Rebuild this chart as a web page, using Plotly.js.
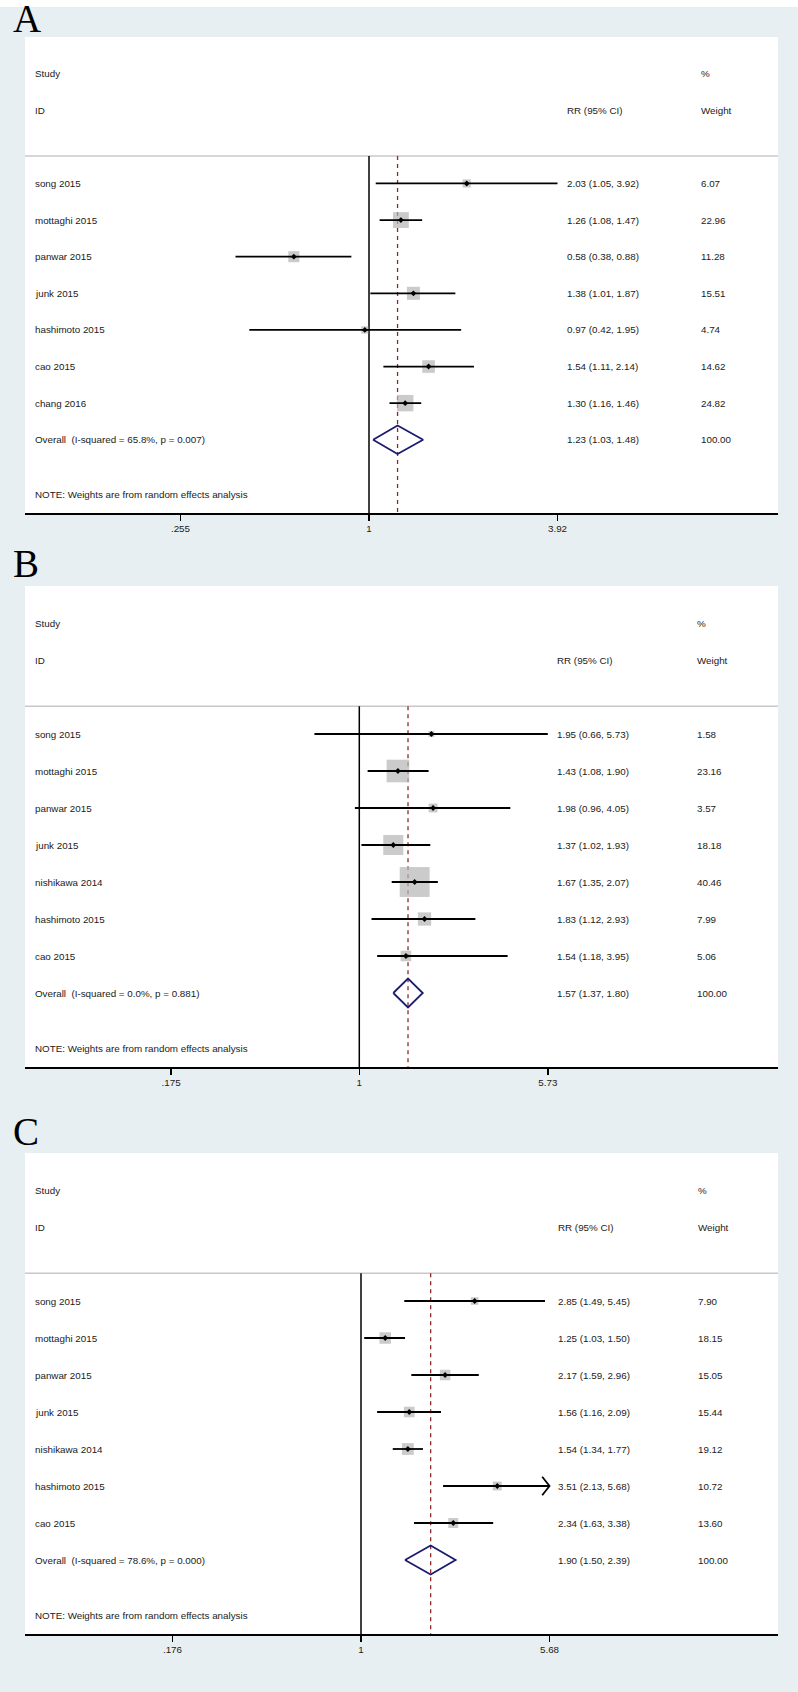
<!DOCTYPE html>
<html><head><meta charset="utf-8">
<script src="https://cdn.plot.ly/plotly-3.0.1.min.js"></script>
<style>html,body{margin:0;padding:0;background:#fff}</style>
</head><body><div id="chart" style="width:798px;height:1692px"></div>
<script>
// ---------- Panel A data ----------
const studiesA = ['song 2015','mottaghi 2015','panwar 2015','junk 2015','hashimoto 2015','cao 2015','chang 2016'];
const rrA      = [2.03, 1.26, 0.58, 1.38, 0.97, 1.54, 1.30];
const lowA     = [1.05, 1.08, 0.38, 1.01, 0.42, 1.11, 1.16];
const highA    = [3.92, 1.47, 0.88, 1.87, 1.95, 2.14, 1.46];
const weightA  = [6.07, 22.96, 11.28, 15.51, 4.74, 14.62, 24.82];
const overallA = [1.23, 1.03, 1.48];
const hetA     = 'Overall\u00a0\u00a0(I-squared = 65.8%, p = 0.007)';
const tickValsA = [0.255, 1, 3.92];
const tickTextA = ['.255', '1', '3.92'];

// ---------- Panel B data ----------
const studiesB = ['song 2015','mottaghi 2015','panwar 2015','junk 2015','nishikawa 2014','hashimoto 2015','cao 2015'];
const rrB      = [1.95, 1.43, 1.98, 1.37, 1.67, 1.83, 1.54];
const lowB     = [0.66, 1.08, 0.96, 1.02, 1.35, 1.12, 1.18];
const highB    = [5.73, 1.90, 4.05, 1.93, 2.07, 2.93, 3.95];
const weightB  = [1.58, 23.16, 3.57, 18.18, 40.46, 7.99, 5.06];
const overallB = [1.57, 1.37, 1.80];
const hetB     = 'Overall\u00a0\u00a0(I-squared = 0.0%, p = 0.881)';
const tickValsB = [0.175, 1, 5.73];
const tickTextB = ['.175', '1', '5.73'];

// ---------- Panel C data ----------
const studiesC = ['song 2015','mottaghi 2015','panwar 2015','junk 2015','nishikawa 2014','hashimoto 2015','cao 2015'];
const rrC      = [2.85, 1.25, 2.17, 1.56, 1.54, 3.51, 2.34];
const lowC     = [1.49, 1.03, 1.59, 1.16, 1.34, 2.13, 1.63];
const highC    = [5.45, 1.50, 2.96, 2.09, 1.77, 5.68, 3.38];
const weightC  = [7.90, 18.15, 15.05, 15.44, 19.12, 10.72, 13.60];
const overallC = [1.90, 1.50, 2.39];
const hetC     = 'Overall\u00a0\u00a0(I-squared = 78.6%, p = 0.000)';
const tickValsC = [0.176, 1, 5.68];
const tickTextC = ['.176', '1', '5.68'];

const noteText = 'NOTE: Weights are from random effects analysis';

// ---------- layout constants (pixels) ----------
const W = 798, H = 1692;
const PLOT_L = 25, PLOT_R = 778;
const panels = [
  {letter:'A', letterY:19,   top:37,   bottom:513,  nullX:369,   rrX:566, wX:700, boxK:3.3, arrows:[],
   studies:studiesA, rr:rrA, lo:lowA, hi:highA, w:weightA, ov:overallA, het:hetA, tv:tickValsA, tt:tickTextA},
  {letter:'B', letterY:564,  top:586,  bottom:1067, nullX:359.3, rrX:556, wX:696, boxK:4.7, arrows:[],
   studies:studiesB, rr:rrB, lo:lowB, hi:highB, w:weightB, ov:overallB, het:hetB, tv:tickValsB, tt:tickTextB},
  {letter:'C', letterY:1131, top:1153, bottom:1634, nullX:361,   rrX:557, wX:697, boxK:2.7, arrows:[5],
   studies:studiesC, rr:rrC, lo:lowC, hi:highC, w:weightC, ov:overallC, het:hetC, tv:tickValsC, tt:tickTextC}
];
const TICK_PX = 188.5; // distance from null line to outer ticks
const ROW_TOP = -3, ROW_BOT = 10;

const FONT = 'Liberation Sans, Arial, Helvetica, sans-serif';
const FS = 9.8;
const TXT = '#1a1a1a';

const traces = [], shapes = [], annotations = [];
const layout = {
  width: W, height: H,
  margin: {l:0, r:0, t:0, b:0},
  paper_bgcolor: '#e8eff2',
  plot_bgcolor: '#ffffff',
  showlegend: false,
  hovermode: false,
  font: {family: FONT, size: FS, color: TXT}
};

// white strip at very top
shapes.push({type:'rect', xref:'paper', yref:'paper', x0:0, x1:1, y0:1-7/H, y1:1,
  fillcolor:'#ffffff', line:{width:0}, layer:'below'});

const fmt = v => v.toFixed(2);

panels.forEach((p, i) => {
  const sfx = i === 0 ? '' : String(i + 1);
  const xa = 'x' + sfx, ya = 'y' + sfx;
  const pxPerLn = TICK_PX / Math.log(p.tv[2]);
  const pxPerDec = pxPerLn * Math.LN10;
  const range = [-(p.nullX - PLOT_L) / pxPerDec, (PLOT_R - p.nullX) / pxPerDec];

  layout['xaxis' + sfx] = {
    type: 'log', range: range, domain: [PLOT_L / W, PLOT_R / W], anchor: ya,
    showgrid: false, zeroline: false, showline: true, linecolor: '#000', linewidth: 1.5,
    ticks: 'outside', ticklen: 6, tickwidth: 1.5, tickcolor: '#000',
    tickvals: p.tv, ticktext: p.tt, tickfont: {family: FONT, size: FS, color: TXT},
    fixedrange: true
  };
  layout['yaxis' + sfx] = {
    range: [ROW_BOT, ROW_TOP], domain: [1 - p.bottom / H, 1 - p.top / H], anchor: xa,
    visible: false, showgrid: false, zeroline: false, fixedrange: true
  };

  const n = p.studies.length;
  const rows = p.studies.map((_, k) => k + 1);
  const ovRow = n + 1;

  // null line and overall dashed line
  shapes.push({type:'line', xref:xa, yref:ya, x0:1, x1:1, y0:0.25, y1:ROW_BOT,
    line:{color:'#000', width:1.5}, layer:'below'});
  shapes.push({type:'line', xref:xa, yref:ya, x0:p.ov[0], x1:p.ov[0], y0:0.25, y1:ROW_BOT,
    line:{color:'#8b2a2a', width:1.3, dash:'4px,4px'}, layer:'below'});
  // header separator
  shapes.push({type:'line', xref:xa + ' domain', yref:ya, x0:0, x1:1, y0:0.25, y1:0.25,
    line:{color:'#c8c8c8', width:1.5}, layer:'below'});

  // weight boxes
  traces.push({type:'scatter', mode:'markers', xaxis:xa, yaxis:ya, x:p.rr, y:rows,
    marker:{symbol:'square', size:p.w.map(v => p.boxK * Math.sqrt(v)), color:'#b5b5b5', line:{width:0}},
    cliponaxis:false});
  // CI lines
  const lx = [], ly = [];
  for (let k = 0; k < n; k++) { lx.push(p.lo[k], p.hi[k], null); ly.push(rows[k], rows[k], null); }
  p.arrows.forEach(k => {
    const back = p.hi[k] * Math.exp(-7.3 / pxPerLn);
    lx.push(back, p.hi[k], back, null); ly.push(rows[k] - 0.25, rows[k], rows[k] + 0.25, null);
  });
  traces.push({type:'scatter', mode:'lines', xaxis:xa, yaxis:ya, x:lx, y:ly,
    line:{color:'#000', width:1.8}, cliponaxis:false});
  // point estimates
  traces.push({type:'scatter', mode:'markers', xaxis:xa, yaxis:ya, x:p.rr, y:rows,
    marker:{symbol:'diamond', size:4.5, color:'#000'}, cliponaxis:false});
  // overall diamond
  traces.push({type:'scatter', mode:'lines', xaxis:xa, yaxis:ya,
    x:[p.ov[1], p.ov[0], p.ov[2], p.ov[0], p.ov[1]],
    y:[ovRow, ovRow - 0.39, ovRow, ovRow + 0.39, ovRow],
    line:{color:'#1c1c6e', width:1.8}, cliponaxis:false});

  // texts
  const lblX = 34 / W;
  const add = (x, row, text) => annotations.push({xref:'paper', yref:ya, x:x, y:row, text:text,
    showarrow:false, xanchor:'left', yanchor:'middle', font:{family:FONT, size:FS, color:TXT}, borderpad:0});
  add(lblX, -2, 'Study');
  add(lblX, -1, 'ID');
  add(p.rrX / W, -1, 'RR (95% CI)');
  add(p.wX / W, -2, '%');
  add(p.wX / W, -1, 'Weight');
  for (let k = 0; k < n; k++) {
    add(lblX, rows[k], p.studies[k]);
    add(p.rrX / W, rows[k], fmt(p.rr[k]) + ' (' + fmt(p.lo[k]) + ', ' + fmt(p.hi[k]) + ')');
    add(p.wX / W, rows[k], fmt(p.w[k]));
  }
  const totalW = p.w.reduce((a, b) => a + b, 0);
  add(lblX, ovRow, p.het);
  add(p.rrX / W, ovRow, fmt(p.ov[0]) + ' (' + fmt(p.ov[1]) + ', ' + fmt(p.ov[2]) + ')');
  add(p.wX / W, ovRow, (Math.round(totalW)).toFixed(2));
  add(lblX, 9.5, noteText);

  // panel letter
  annotations.push({xref:'paper', yref:'paper', x:12 / W, y:1 - p.letterY / H, text:p.letter,
    showarrow:false, xanchor:'left', yanchor:'middle', borderpad:0,
    font:{family:'Liberation Serif, Times New Roman, serif', size:39, color:'#000'}});
});

layout.shapes = shapes;
layout.annotations = annotations;
Plotly.newPlot('chart', traces, layout, {staticPlot:true, displayModeBar:false});
</script>
</body></html>
